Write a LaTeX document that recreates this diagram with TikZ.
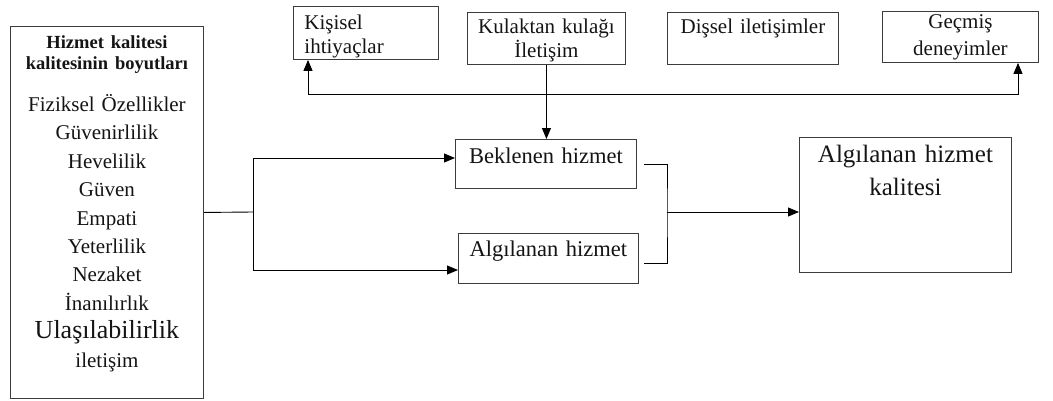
\documentclass[tikz,border=0pt]{standalone}
\usepackage{fontspec}
\setmainfont{Liberation Serif}
\usetikzlibrary{arrows.meta,positioning,calc}
\definecolor{boxline}{RGB}{60,60,60}
\definecolor{darktext}{RGB}{20,20,20}

\begin{document}
\begin{tikzpicture}[x=1pt,y=-1pt,
    >={Triangle[length=11pt,width=9pt]},
    box/.style={draw=boxline,line width=0.9pt,anchor=north west,
                inner xsep=2pt,inner ysep=0pt,align=center,text=darktext},
    toptext/.style={font=\fontsize{21}{24}\selectfont},
    midtext/.style={font=\fontsize{22.5}{26}\selectfont},
    link/.style={line width=0.9pt,color=black},
    arrow/.style={->,line width=0.9pt,color=black},
    both/.style={<->,line width=0.9pt,color=black}
]
\useasboundingbox (0,0) rectangle (1053,400);

% dimensions box
\node[box,text width=189pt,text height=22pt,text depth=350pt,
      font=\fontsize{21}{28.4}\selectfont] (boyut) at (10,26)
  {{\bfseries\fontsize{18.5}{21}\selectfont Hizmet kalitesi}\\[-7.4pt]
   {\bfseries\fontsize{18.5}{21}\selectfont kalitesinin boyutları}\\[13.6pt]
   Fiziksel Özellikler\\ Güvenirlilik\\ Hevelilik\\ Güven\\ Empati\\
   Yeterlilik\\ Nezaket\\ İnanılırlık\\
   {\fontsize{26}{28.4}\selectfont Ulaşılabilirlik}\\ iletişim};

% top row
\node[box,toptext,align=left,inner xsep=11pt,text width=123pt,
      text height=23pt,text depth=30pt] (kisisel) at (293,6)
  {Kişisel\\ ihtiyaçlar};
\node[box,toptext,text width=154pt,text height=21pt,text depth=31pt]
  (kulak) at (467,12) {Kulaktan kulağı\\ İletişim};
\node[box,toptext,text width=167pt,text height=21pt,text depth=31pt]
  (dissel) at (667,12) {Dişsel iletişimler};
\node[box,font=\fontsize{21}{27}\selectfont,text width=152pt,
      text height=17pt,text depth=34pt] (gecmis) at (882,11)
  {Geçmiş\\ deneyimler};

% middle
\node[box,midtext,text width=177pt,text height=24pt,text depth=25pt]
  (bek) at (455,139) {Beklenen hizmet};
\node[box,midtext,text width=176pt,text height=23pt,text depth=27pt]
  (alg) at (458,233) {Algılanan hizmet};
\node[box,font=\fontsize{25}{33}\selectfont,text width=208pt,
      text height=25pt,text depth=110pt] (kalite) at (799,137)
  {Algılanan hizmet\\ kalitesi};

\coordinate (busL) at (308,94);
\coordinate (busR) at (1018,94);
\coordinate (split) at (253,212);
\coordinate (join) at (667,212);

\draw[both] (kisisel.south -| busL) -- (busL) -- (busR) -- (gecmis.south -| busR);
\draw[arrow] (kulak.south) -- (kulak.south |- bek.north);
\draw[link] (boyut.east) -- (split);
\draw[arrow] (split) |- (bek.west |- 0,158);
\draw[arrow] (split) |- (alg.west |- 0,270);
\draw[link] ([xshift=7pt]bek.east) -| (join) |- ([xshift=5pt,yshift=-5pt]alg.east);
\draw[arrow] (join) -- (join -| kalite.west);
\end{tikzpicture}
\end{document}
